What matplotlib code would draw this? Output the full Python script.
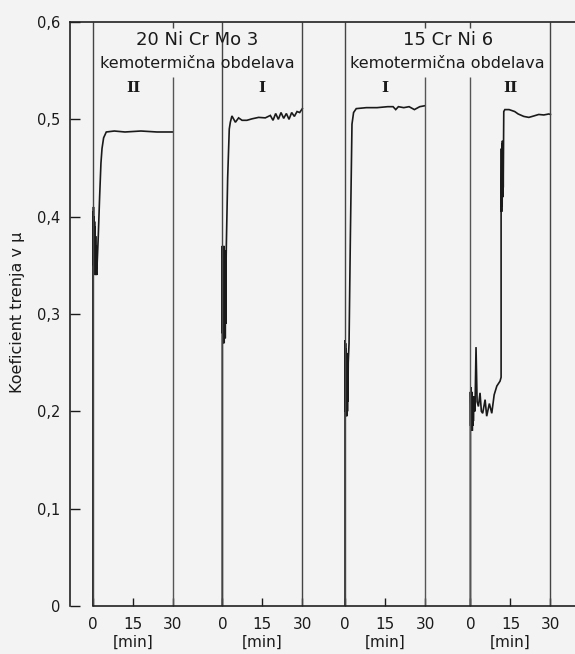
import numpy as np
import matplotlib.pyplot as plt

# cas [min] in koeficient trenja, odcitano s slike
# 20 Ni Cr Mo 3, obdelava II
t1 = [0, 0, 0.1, 0.2, 0.3, 0.4, 0.5, 0.6, 0.7, 0.8, 0.9, 1.0, 1.1, 1.2, 1.3, 1.4,
      2.0, 2.5, 3.0, 3.4, 4.0, 5.0, 8, 12, 18, 24, 30]
mu1 = [0, 0.405, 0.36, 0.41, 0.35, 0.40, 0.345, 0.395, 0.34, 0.39, 0.345, 0.38, 0.34, 0.37, 0.345, 0.34,
       0.38, 0.42, 0.455, 0.47, 0.481, 0.487, 0.488, 0.487, 0.488, 0.487, 0.487]
# 20 Ni Cr Mo 3, obdelava I
t2 = [0, 0, 0.1, 0.2, 0.3, 0.4, 0.5, 0.6, 0.7, 0.8, 0.9, 1.0, 1.1, 1.2, 1.3, 1.4, 1.5,
      2.0, 2.6, 3.0, 3.6, 4.9, 6.1, 7.4, 9.2, 11.1, 13.6, 16.1, 18.0,
      19.0, 20.0, 21.0, 22.0, 23.0, 24.0, 25.0, 26.0, 27.0, 28.0, 29.0, 30.0]
mu2 = [0, 0.37, 0.28, 0.365, 0.27, 0.36, 0.275, 0.37, 0.27, 0.35, 0.28, 0.365, 0.275, 0.36, 0.29, 0.35, 0.37,
       0.44, 0.49, 0.497, 0.5035, 0.497, 0.5015, 0.499, 0.499, 0.5005, 0.502, 0.5015, 0.504,
       0.499, 0.506, 0.500, 0.507, 0.501, 0.506, 0.500, 0.507, 0.503, 0.508, 0.507, 0.511]
# 15 Cr Ni 6, obdelava I
t3 = [0, 0, 0.1, 0.2, 0.3, 0.4, 0.5, 0.6, 0.7, 0.8, 0.9, 1.0, 1.1, 1.2,
      1.5, 2.0, 2.6, 3.2, 4.2, 8, 12, 16, 18, 19, 20, 22, 24, 26, 28, 30]
mu3 = [0, 0.273, 0.20, 0.27, 0.195, 0.265, 0.20, 0.26, 0.195, 0.255, 0.20, 0.25, 0.21, 0.25,
       0.27, 0.38, 0.495, 0.507, 0.511, 0.512, 0.512, 0.513,
       0.513, 0.510, 0.513, 0.512, 0.513, 0.510, 0.513, 0.514]
# 15 Cr Ni 6, obdelava II
t4 = [0, 0, 0.1, 0.2, 0.3, 0.4, 0.5, 0.6, 0.7, 0.8, 0.9, 1.0, 1.1, 1.3, 1.7, 2.1, 2.5, 3.0, 3.6, 4.1,
      4.6, 5.5, 6.1, 7.1, 8.0, 8.9, 9.9, 11.1, 11.5, 11.5, 11.6, 11.7, 11.8, 11.9, 12.0, 12.1, 12.2,
      12.3, 12.4, 12.5, 12.9, 14.5, 16.6, 17.9, 20.0, 21.9, 23.8, 25.6, 27.5, 29.4, 30]
mu4 = [0, 0.22, 0.185, 0.225, 0.18, 0.215, 0.183, 0.22, 0.18, 0.21, 0.185, 0.215, 0.19, 0.215, 0.20,
       0.266, 0.21, 0.205, 0.219, 0.20, 0.198, 0.212, 0.195, 0.208, 0.198, 0.217, 0.226, 0.231, 0.235,
       0.40, 0.47, 0.405, 0.475, 0.41, 0.478, 0.42, 0.475, 0.43, 0.47, 0.508, 0.510,
       0.510, 0.508, 0.5055, 0.503, 0.502, 0.5035, 0.505, 0.5045, 0.5055, 0.505]

times = [t1, t2, t3, t4]
mus = [mu1, mu2, mu3, mu4]
numerals = ['II', 'I', 'I', 'II']
steels = ['20 Ni Cr Mo 3', '15 Cr Ni 6']
offsets = [0, 48.5, 94.5, 141.5]
xticks_min = [0, 15, 30]
yticks = [0, 0.1, 0.2, 0.3, 0.4, 0.5, 0.6]
ylabels = ['0', '0,1', '0,2', '0,3', '0,4', '0,5', '0,6']

bg = '#f3f3f3'
ink = '#1a1a1a'
xmin, xmax = -8.6, 180.7

fig = plt.figure(figsize=(5.75, 6.54), dpi=100, facecolor=bg)
ax = fig.add_axes([70/575, 48/654, 505/575, 584/654])
ax.set_facecolor(bg)

for off, t, mu in zip(offsets, times, mus):
    ax.plot(np.array(t) + off, mu, color=ink, lw=1.2, solid_joinstyle='miter')

# navpicne crte panelov
full = [offsets[0], offsets[1], offsets[1] + 30, offsets[2], offsets[3] + 30]
part = [offsets[0] + 30, offsets[2] + 30, offsets[3]]
ax.vlines(full, 0, 0.6, color='#444444', lw=1.0)
ax.vlines(part, 0, 0.543, color='#555555', lw=1.0)
ax.vlines(part, 0.594, 0.6, color='#444444', lw=1.0)

ax.set_xlim(xmin, xmax)
ax.set_ylim(0, 0.6)
ax.spines['right'].set_visible(False)
for s in ['top', 'left', 'bottom']:
    ax.spines[s].set_color('#222222')
    ax.spines[s].set_linewidth(1.2)
ax.spines['bottom'].set_bounds(0, xmax)

ax.set_yticks(yticks)
ax.set_yticklabels(ylabels)
ax.tick_params(axis='y', direction='in', length=7, width=1, pad=7, labelsize=10.5, colors=ink)

xt = [off + m for off in offsets for m in xticks_min]
ax.set_xticks(xt)
ax.set_xticklabels([str(m) for off in offsets for m in xticks_min])
ax.tick_params(axis='x', direction='in', length=6, width=1, pad=8, labelsize=11, colors=ink)

for off in offsets:
    ax.annotate('[min]', xy=(off + 15, 0), xytext=(0, -36), textcoords='offset pixels',
                ha='center', va='center', fontsize=11, color=ink)

for off, num in zip(offsets, numerals):
    ax.text(off + 15, 0.532, num, ha='center', va='center', fontsize=11, fontweight='bold',
            family='DejaVu Serif', color=ink)

for k, name in enumerate(steels):
    xc = (offsets[2*k] + offsets[2*k+1] + 30) / 2
    ax.text(xc, 0.581, name, ha='center', va='center', fontsize=13, color=ink)
    ax.text(xc, 0.557, 'kemotermična obdelava', ha='center', va='center', fontsize=11.5, color=ink)

fig.text(18/575, 1 - 312/654, 'Koeficient trenja v μ', rotation=90, ha='center', va='center',
         fontsize=11.5, color=ink)

plt.savefig('out.png', dpi=100, facecolor=bg)
